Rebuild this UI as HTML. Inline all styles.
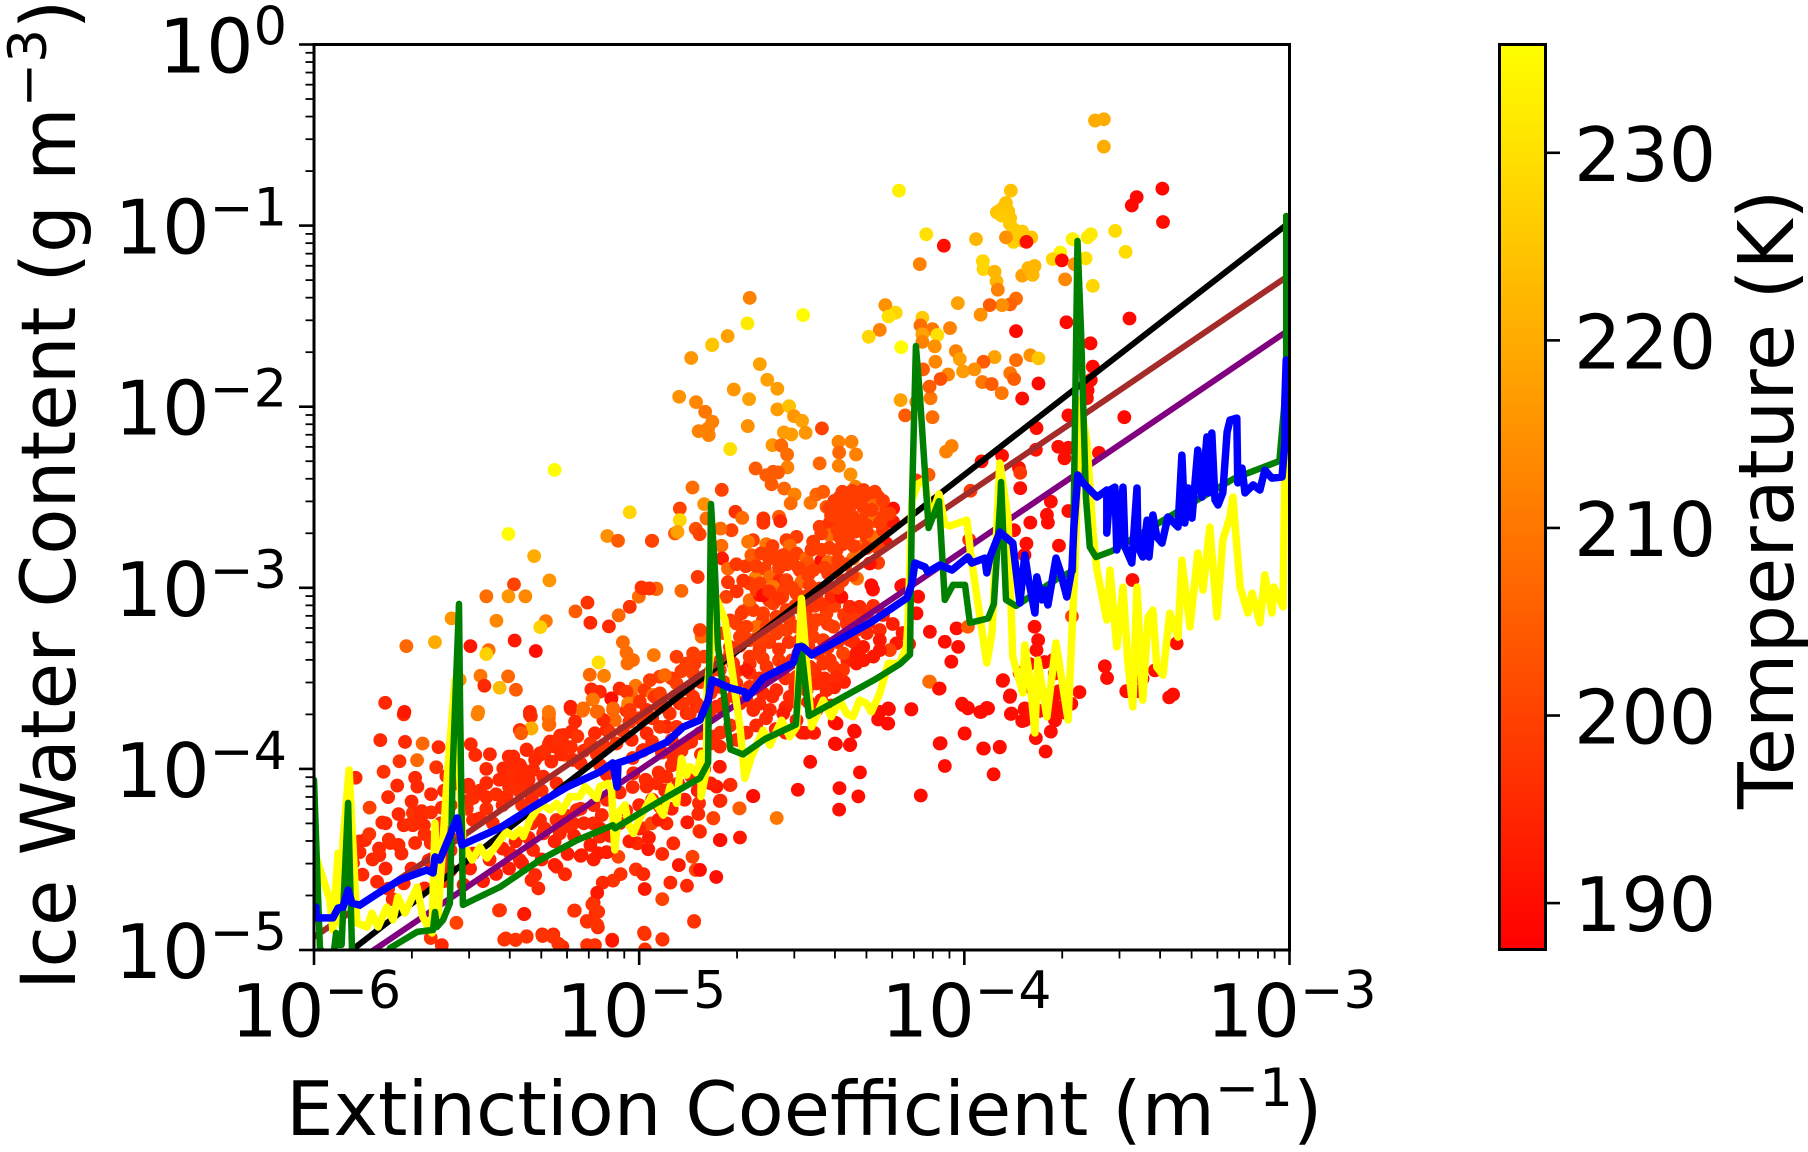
<!DOCTYPE html>
<html lang="en">
<head>
<meta charset="utf-8">
<title>Ice Water Content vs Extinction Coefficient</title>
<style>
html,body{margin:0;padding:0;background:#fff;width:1808px;height:1152px;overflow:hidden}
svg{display:block}
text{font-family:"DejaVu Sans","Liberation Sans",sans-serif;fill:#000}
</style>
</head>
<body>
<svg id="chart" xmlns="http://www.w3.org/2000/svg" width="1808" height="1152" viewBox="0 0 1808 1152">
<defs>
<clipPath id="plot-clip"><rect x="314" y="44.5" width="975.5" height="905.5"/></clipPath>
<linearGradient id="autumn-gradient" x1="0" y1="1" x2="0" y2="0"><stop offset="0" stop-color="#ff0000"/><stop offset="1" stop-color="#ffff00"/></linearGradient>
</defs>
<g id="marks" clip-path="url(#plot-clip)"></g>
<g id="axes"></g>
<rect x="1499.5" y="44.5" width="46" height="905" fill="url(#autumn-gradient)" stroke="#000" stroke-width="3"/>
<g id="cbar"></g>
<text x="286" y="1135" font-size="75.2">Extinction Coefficient (m<tspan dy="-29" font-size="53">−1</tspan><tspan dy="29">)</tspan></text>
<text transform="translate(75,990) rotate(-90)" font-size="75.7">Ice Water Content (g m<tspan dy="-29" font-size="53">−3</tspan><tspan dy="29">)</tspan></text>
<text transform="translate(1793,809) rotate(-90)" font-size="76.6">Temperature (K)</text>
</svg>
<script>
// Values are [log10 extinction (m^-1), log10 IWC (g m^-3), temperature (K)]
const upperSparsePoints=[[-3.598,-.420,220],[-3.571,-.413,220],[-3.571,-.564,220],[-3.391,-.796,189],[-3.470,-.843,189],[-3.485,-.889,189],[-3.389,-.980,190],[-4.201,-.807,233],[-3.857,-.807,224],[-3.891,-.917,225],[-3.872,-.875,224],[-3.859,-.959,225],[-3.900,-.927,225],[-3.872,-.948,226],[-3.847,-1.022,226],[-3.822,-1.033,226],[-3.849,-1.090,227],[-3.822,-1.082,226],[-3.794,-1.065,225],[-3.880,-.900,225],[-3.865,-.920,225],[-3.885,-.945,226],[-3.860,-.990,226],[-3.835,-1.060,226],[-4.117,-1.048,230],[-4.063,-1.111,190],[-3.964,-1.075,222],[-3.872,-1.065,215],[-3.809,-1.090,190],[-3.667,-1.075,233],[-3.621,-1.065,232],[-3.611,-1.048,232],[-3.536,-1.029,229],[-3.504,-1.145,229],[-3.705,-1.149,234],[-3.728,-1.185,228],[-3.700,-1.192,189],[-3.661,-1.213,215],[-3.627,-1.181,230],[-3.605,-1.333,228],[-3.690,-1.297,213],[-4.137,-1.213,212],[-3.943,-1.196,228],[-3.941,-1.240,228],[-3.907,-1.255,222],[-3.901,-1.308,222],[-3.897,-1.354,212],[-3.822,-1.276,218],[-3.803,-1.234,222],[-3.784,-1.223,222],[-3.790,-1.272,222],[-3.841,-1.403,208],[-3.859,-1.435,206],[-3.884,-1.439,215],[-3.922,-1.439,205],[-3.950,-1.492,215],[-4.020,-1.428,218],[-4.660,-1.399,212],[-4.667,-1.540,232],[-4.496,-1.494,235],[-4.728,-1.610,218],[-4.775,-1.657,225],[-4.243,-1.439,215],[-4.211,-1.481,228],[-4.233,-1.502,230],[-4.129,-1.509,226],[-4.260,-1.576,212],[-4.294,-1.614,228],[-4.135,-1.551,208],[-4.098,-1.572,210],[-4.044,-1.566,212],[-4.129,-1.600,218],[-4.083,-1.604,230],[-4.129,-1.642,212],[-4.194,-1.672,235],[-4.091,-1.667,215],[-3.841,-1.583,189],[-3.686,-1.534,189],[-3.492,-1.513,189],[-3.612,-1.650,189],[-4.089,-1.752,213],[-4.026,-1.693,212],[-4.014,-1.737,218],[-3.907,-1.726,218],[-3.941,-1.752,205],[-3.841,-1.743,208],[-3.797,-1.716,215],[-3.772,-1.733,225],[-4.127,-1.794,205],[-4.050,-1.822,213],[-4.073,-1.847,203],[-4.004,-1.805,217],[-3.969,-1.794,215],[-3.859,-1.815,210],[-3.847,-1.847,205],[-3.945,-1.864,210],[-3.916,-1.875,205],[-3.772,-1.872,189],[-3.885,-1.925,210],[-3.822,-1.955,190],[-3.605,-1.779,189],[-3.611,-1.853,189],[-3.621,-1.910,189],[-3.623,-1.953,190],[-3.680,-2.048,189],[-3.508,-2.058,189],[-3.778,-2.118,190],[-3.586,-2.255,190],[-3.711,-2.221,190],[-3.780,-2.238,191],[-3.680,-2.227,190],[-3.692,-2.285,190],[-3.884,-2.270,190],[-3.947,-2.302,190],[-3.832,-2.338,190],[-3.828,-2.365,198],[-3.828,-2.450,190],[-3.981,-2.464,198],[-3.734,-2.524,190],[-3.746,-2.597,190],[-3.743,-2.640,190],[-3.680,-2.576,190],[-3.709,-2.767,190],[-3.797,-2.640,190],[-3.847,-2.682,190],[-3.809,-2.756,190],[-3.815,-2.819,190],[-3.483,-2.957,190],[-3.985,-2.735,195],[-4.110,-2.376,205],[-4.148,-2.407,198],[-4.056,-2.248,212],[-4.039,-2.217,212],[-4.098,-2.058,208],[-4.182,-2.048,205],[-4.104,-1.953,210],[-4.107,-1.889,205],[-4.148,-1.974,212],[-4.196,-1.964,218]];

const midSparsePoints=[[-5.260,-2.349,235],[-5.029,-2.583,228],[-5.402,-2.703,235],[-5.098,-2.714,215],[-5.065,-2.740,205],[-4.960,-2.740,203],[-5.323,-2.825,220],[-5.276,-2.959,216],[-5.385,-2.981,200],[-5.470,-3.047,208],[-5.402,-3.047,216],[-5.350,-3.047,213],[-5.159,-3.082,197],[-5.196,-3.130,205],[-5.577,-3.169,216],[-5.439,-3.182,213],[-5.287,-3.184,210],[-5.304,-3.217,227],[-5.150,-3.193,195],[-5.093,-3.213,195],[-5.063,-3.152,207],[-5.029,-3.105,197],[-5.001,-3.049,208],[-4.993,-2.998,198],[-4.968,-3.003,198],[-4.947,-3.007,205],[-5.716,-3.322,207],[-5.628,-3.300,220],[-5.519,-3.322,192],[-5.463,-3.344,208],[-5.470,-3.366,227],[-5.383,-3.291,192],[-5.318,-3.349,190],[-5.050,-3.300,208],[-5.039,-3.357,208],[-5.019,-3.399,208],[-5.036,-3.418,208],[-4.955,-3.372,210],[-5.125,-3.412,230],[-5.152,-3.480,207],[-5.108,-3.486,212],[-5.552,-3.508,215],[-5.488,-3.486,210],[-5.403,-3.489,207],[-5.476,-3.541,195],[-5.429,-3.552,223],[-5.379,-3.563,205],[-5.147,-3.561,195],[-5.121,-3.574,195],[-5.142,-3.617,210],[-5.086,-3.613,190],[-5.060,-3.556,195],[-5.011,-3.541,210],[-5.039,-3.574,197],[-4.983,-3.565,198],[-4.957,-3.593,210],[-4.937,-3.491,200],[-5.211,-3.657,193],[-5.172,-3.666,208],[-5.131,-3.685,207],[-5.034,-3.639,212],[-5.080,-3.666,207],[-5.029,-3.675,198],[-4.998,-3.629,197],[-5.495,-3.685,212],[-5.336,-3.685,195],[-5.278,-3.685,210],[-5.722,-3.685,192]];

const orangeCloudPoints=[[-4.840,-1.731,216],[-4.776,-1.660,225],[-4.629,-1.765,218],[-4.606,-1.851,218],[-4.575,-1.901,217],[-4.709,-1.905,216],[-4.662,-1.958,218],[-4.877,-1.945,215],[-4.825,-1.975,213],[-4.797,-2.028,210],[-4.775,-2.083,212],[-4.788,-2.120,212],[-4.817,-2.135,212],[-4.786,-2.157,212],[-4.666,-2.107,215],[-4.575,-2.015,217],[-4.539,-1.997,224],[-4.524,-2.052,216],[-4.499,-2.078,218],[-4.488,-2.144,216],[-4.555,-2.142,217],[-4.532,-2.153,217],[-4.590,-2.212,216],[-4.563,-2.214,207],[-4.545,-2.264,208],[-4.544,-2.335,212],[-4.438,-2.120,200],[-4.720,-2.234,230],[-4.642,-2.341,205],[-4.609,-2.378,205],[-4.588,-2.359,205],[-4.573,-2.363,205],[-4.593,-2.428,205],[-4.554,-2.452,207],[-4.522,-2.485,212],[-4.534,-2.534,208],[-4.473,-2.531,210],[-4.455,-2.485,207],[-4.434,-2.470,205],[-4.424,-2.553,205],[-4.387,-2.194,212],[-4.347,-2.194,212],[-4.385,-2.253,207],[-4.333,-2.264,212],[-4.386,-2.326,212],[-4.350,-2.374,215],[-4.445,-2.313,207],[-4.335,-2.442,212],[-4.836,-2.446,208],[-4.746,-2.459,200],[-4.875,-2.562,200],[-4.800,-2.538,215],[-4.875,-2.626,228],[-4.890,-2.700,205],[-4.882,-2.691,218],[-4.961,-2.741,200],[-4.826,-2.674,203],[-4.814,-2.704,200],[-4.793,-2.617,208],[-4.704,-2.580,197],[-4.683,-2.614,208],[-4.716,-2.682,200],[-4.750,-2.673,208],[-4.618,-2.617,197],[-4.618,-2.641,197],[-4.570,-2.608,205],[-4.566,-2.632,195],[-4.747,-2.768,208],[-4.745,-2.838,192],[-4.727,-2.894,207],[-4.701,-2.870,198],[-4.672,-2.881,198],[-4.727,-2.969,198],[-4.820,-2.940,198],[-4.870,-3.017,207],[-4.947,-3.004,207],[-4.969,-3.004,197],[-4.988,-3.004,197],[-4.732,-3.050,200],[-4.642,-2.943,212]];

const coreBlobPoints=[[-4.650,-2.737,199],[-4.655,-2.820,205],[-4.609,-2.783,199],[-4.665,-2.746,210],[-4.609,-2.759,210],[-4.547,-2.737,199],[-4.516,-2.719,199],[-4.537,-2.768,207],[-4.557,-2.820,199],[-4.578,-2.829,199],[-4.516,-2.811,199],[-4.486,-2.838,207],[-4.481,-2.866,203],[-4.614,-2.894,199],[-4.598,-2.940,207],[-4.629,-2.976,199],[-4.660,-2.976,199],[-4.639,-3.013,199],[-4.619,-3.041,190],[-4.568,-2.958,195],[-4.588,-2.995,210],[-4.547,-2.958,199],[-4.506,-2.903,198],[-4.501,-2.967,207],[-4.557,-3.022,199],[-4.516,-3.032,199],[-4.475,-2.986,199],[-4.440,-2.851,190],[-4.419,-2.857,207],[-4.465,-2.903,199],[-4.393,-2.792,199],[-4.388,-2.848,199],[-4.419,-2.921,199],[-4.445,-3.004,199],[-4.455,-3.050,199],[-4.445,-2.663,199],[-4.465,-2.746,199],[-4.414,-2.641,197],[-4.414,-2.709,208],[-4.383,-2.719,199],[-4.353,-2.700,199],[-4.358,-2.737,199],[-4.322,-2.774,210],[-4.301,-2.719,199],[-4.281,-2.719,208],[-4.250,-2.682,197],[-4.240,-2.755,190],[-4.265,-2.862,199],[-4.291,-2.866,190],[-4.286,-2.986,190],[-4.281,-3.010,190],[-4.330,-2.949,208],[-4.194,-2.991,190],[-4.409,-3.050,195],[-4.378,-3.050,190],[-4.342,-2.838,208],[-4.383,-2.498,199],[-4.342,-2.498,199],[-4.301,-2.488,199],[-4.265,-2.498,199],[-4.393,-2.553,199],[-4.353,-2.553,199],[-4.312,-2.553,199],[-4.276,-2.544,207],[-4.240,-2.571,199],[-4.383,-2.608,199],[-4.342,-2.608,199],[-4.301,-2.599,199],[-4.278,-2.632,210],[-4.219,-2.562,190],[-4.219,-2.636,192],[-4.363,-2.654,199],[-4.332,-2.654,199],[-4.301,-2.654,199],[-4.250,-2.608,199],[-4.415,-2.560,199],[-4.410,-2.600,199],[-4.365,-2.525,199],[-4.325,-2.525,199],[-4.285,-2.570,199],[-4.355,-2.580,199],[-4.320,-2.630,199],[-4.390,-2.680,199],[-4.440,-2.700,199],[-4.470,-2.790,199],[-4.545,-2.870,199],[-4.600,-2.840,199],[-4.400,-2.520,199],[-4.375,-2.470,199],[-4.345,-2.465,199],[-4.310,-2.460,199],[-4.275,-2.470,199],[-4.250,-2.520,199],[-4.230,-2.590,199],[-4.260,-2.640,199],[-4.335,-2.690,199],[-4.300,-2.690,199],[-4.375,-2.760,199],[-4.340,-2.770,199],[-4.300,-2.780,199],[-4.265,-2.780,199],[-4.415,-2.780,199],[-4.440,-2.790,199],[-4.430,-2.890,199],[-4.395,-2.900,199],[-4.365,-2.870,199],[-4.375,-2.960,199],[-4.345,-2.930,199],[-4.420,-2.990,199],[-4.390,-3.000,199],[-4.480,-2.930,199],[-4.510,-2.890,199],[-4.530,-2.850,199],[-4.570,-2.890,199],[-4.590,-2.770,199],[-4.625,-2.810,199],[-4.640,-2.880,199],[-4.680,-2.960,197],[-4.700,-3.020,197],[-4.600,-3.020,197],[-4.570,-3.060,197],[-4.530,-3.000,199],[-4.490,-3.050,199],[-4.440,-3.090,197],[-4.480,-3.100,197]];

const bandPoints=[[-4.952,-3.602,197],[-4.967,-3.510,199],[-4.936,-3.583,199],[-4.921,-3.482,207],[-4.885,-3.381,199],[-4.854,-3.418,199],[-4.834,-3.362,199],[-4.808,-3.270,207],[-4.813,-3.233,199],[-4.865,-3.454,199],[-4.834,-3.473,199],[-4.885,-3.528,199],[-4.865,-3.639,197],[-4.834,-3.602,197],[-4.906,-3.694,197],[-4.936,-3.768,197],[-4.885,-3.768,197],[-4.844,-3.694,197],[-4.813,-3.657,197],[-4.685,-3.141,198],[-4.649,-3.123,199],[-4.619,-3.141,199],[-4.588,-3.086,199],[-4.660,-3.068,207],[-4.629,-3.040,190],[-4.639,-3.215,208],[-4.670,-3.215,199],[-4.701,-3.197,199],[-4.608,-3.215,199],[-4.578,-3.160,199],[-4.547,-3.123,199],[-4.516,-3.215,199],[-4.485,-3.160,199],[-4.455,-3.178,199],[-4.424,-3.141,199],[-4.383,-3.049,199],[-4.352,-3.105,195],[-4.322,-3.105,195],[-4.188,-2.985,190],[-4.721,-3.326,197],[-4.690,-3.270,199],[-4.660,-3.289,199],[-4.619,-3.270,199],[-4.578,-3.252,199],[-4.547,-3.233,199],[-4.506,-3.289,199],[-4.465,-3.270,199],[-4.434,-3.289,199],[-4.403,-3.215,199],[-4.362,-3.197,197],[-4.332,-3.233,197],[-4.296,-3.197,195],[-4.260,-3.233,195],[-4.352,-3.289,195],[-4.311,-3.326,192],[-4.260,-3.289,192],[-4.209,-3.307,192],[-4.229,-3.344,200],[-4.260,-3.344,192],[-4.332,-3.362,192],[-4.373,-3.362,200],[-4.403,-3.436,198],[-4.373,-3.454,197],[-4.414,-3.399,197],[-4.670,-3.454,192],[-4.711,-3.418,197],[-4.752,-3.454,197],[-4.701,-3.528,197],[-4.660,-3.547,197],[-4.608,-3.436,197],[-4.557,-3.436,197],[-4.516,-3.491,197],[-4.475,-3.436,197],[-4.434,-3.418,197],[-4.393,-3.491,195],[-4.455,-3.528,195],[-4.424,-3.565,195],[-4.485,-3.565,195],[-4.537,-3.602,195],[-4.578,-3.565,195],[-4.619,-3.583,195],[-4.598,-3.675,195],[-4.649,-3.675,195],[-4.690,-3.639,195],[-4.742,-3.639,195],[-4.783,-3.712,195],[-4.752,-3.547,195],[-4.557,-3.694,192],[-4.516,-3.731,192],[-4.455,-3.675,192],[-4.332,-3.418,192],[-4.142,-3.049,190],[-4.147,-3.141,190],[-4.106,-3.243,190],[-4.060,-3.298,190],[-4.019,-3.326,190],[-4.040,-3.408,190],[-4.024,-3.224,190],[-3.989,-3.215,205],[-3.881,-3.510,190],[-4.106,-3.519,208],[-4.076,-3.556,190],[-4.004,-3.648,190],[-3.989,-3.666,190],[-3.948,-3.685,190],[-3.927,-3.666,190],[-3.860,-3.602,190],[-3.855,-3.694,190],[-3.814,-3.666,190],[-3.814,-3.731,190],[-4.163,-3.672,190],[-4.260,-3.685,190],[-4.234,-3.666,190],[-4.234,-3.749,190],[-4.393,-3.749,190],[-4.337,-3.795,190],[-4.398,-3.860,190],[-4.352,-3.869,190],[-3.999,-3.804,190],[-4.076,-3.860,190],[-3.942,-3.887,190],[-3.891,-3.878,190],[-3.784,-3.215,190],[-3.773,-3.289,190],[-3.778,-3.344,190],[-3.727,-3.399,190],[-3.722,-3.473,190]];

const bandFillPoints=[[-5.86,-4.40,195],[-5.83,-4.36,197],[-5.80,-4.44,195],[-5.77,-4.39,196],[-5.74,-4.42,195],[-5.70,-4.30,196],[-5.67,-4.26,195],[-5.64,-4.24,196],[-5.61,-4.30,195],[-5.66,-4.36,196],[-5.62,-4.40,195],[-5.58,-4.45,195],[-5.55,-4.38,196],[-5.53,-4.10,195],[-5.51,-4.16,196],[-5.49,-4.12,195],[-5.53,-4.22,196],[-5.50,-4.28,195],[-5.47,-4.22,196],[-5.45,-4.30,195],[-5.44,-4.14,196],[-5.42,-4.20,195],[-5.40,-4.10,196],[-5.43,-4.06,195],[-5.39,-4.02,196],[-5.36,-4.00,195],[-5.37,-4.12,196],[-5.34,-4.06,195],[-5.36,-4.20,196],[-5.33,-4.16,195],[-5.30,-4.12,196],[-5.32,-3.95,195],[-5.29,-3.90,196],[-5.27,-3.96,195],[-5.25,-3.84,196],[-5.24,-3.92,195],[-5.21,-3.88,196],[-5.19,-3.82,197],[-5.17,-3.90,196],[-5.15,-3.86,197],[-5.13,-3.92,196],[-5.11,-3.87,197],[-5.09,-3.80,197],[-5.07,-3.86,197],[-5.05,-3.79,197],[-5.03,-3.74,197],[-5.00,-3.72,197],[-5.12,-3.98,196],[-5.18,-3.97,195],[-5.10,-4.03,195],[-5.33,-4.30,195],[-5.29,-4.33,195],[-5.26,-4.40,194],[-5.23,-4.32,195],[-5.20,-4.37,194],[-5.17,-4.30,195],[-5.15,-4.42,193],[-5.12,-4.33,194],[-5.09,-4.37,194],[-5.06,-4.30,194],[-5.03,-4.40,193],[-5.00,-4.33,194],[-4.97,-4.38,193],[-5.22,-4.26,195],[-5.18,-4.22,195],[-5.14,-4.20,195],[-5.10,-4.17,195],[-5.06,-4.13,195],[-5.02,-4.10,195],[-4.98,-4.06,195],[-4.94,-4.02,195],[-4.90,-3.98,195],[-5.04,-4.23,195],[-5.00,-4.20,194],[-4.96,-4.17,194],[-4.92,-4.12,194],[-4.88,-4.08,194],[-4.84,-4.04,194],[-4.80,-4.00,194],[-4.94,-4.28,193],[-4.90,-4.22,193],[-4.86,-4.17,193],[-4.82,-4.12,193],[-4.78,-4.08,193],[-5.02,-3.94,196],[-4.99,-3.90,196],[-4.96,-3.85,196],[-4.93,-3.91,195],[-4.90,-3.84,196],[-4.87,-3.90,196],[-4.84,-3.85,196],[-4.81,-3.92,195],[-4.78,-3.86,196],[-4.75,-3.80,196],[-4.72,-3.76,196],[-4.70,-3.84,195],[-4.67,-3.80,195],[-4.64,-3.76,195],[-4.61,-3.72,195],[-4.58,-3.78,194],[-4.55,-3.80,193],[-4.50,-3.80,192],[-4.96,-3.72,197],[-4.92,-3.66,197],[-4.89,-3.60,198],[-4.85,-3.56,198],[-4.81,-3.52,198],[-4.78,-3.46,198],[-4.75,-3.40,198],[-4.72,-3.36,198],[-4.69,-3.32,198],[-4.66,-3.38,198],[-4.63,-3.34,198],[-4.60,-3.30,198],[-4.57,-3.34,197],[-4.54,-3.30,197],[-4.51,-3.36,197],[-4.48,-3.32,197],[-4.45,-3.36,197],[-4.42,-3.33,197],[-4.39,-3.30,197],[-4.90,-3.50,198],[-4.87,-3.46,198],[-4.83,-3.42,198],[-4.80,-3.38,199],[-4.77,-3.31,199],[-4.74,-3.25,199],[-4.72,-3.18,199],[-4.68,-3.13,199],[-4.78,-3.58,197],[-4.74,-3.52,197],[-4.70,-3.46,197],[-4.66,-3.47,197],[-4.63,-3.50,196],[-4.59,-3.48,196],[-4.55,-3.50,196],[-4.52,-3.55,195],[-4.49,-3.50,196],[-4.46,-3.46,196],[-4.43,-3.50,195],[-4.40,-3.55,194],[-4.37,-3.52,194],[-4.71,-3.60,196],[-4.67,-3.62,195],[-4.63,-3.64,195],[-4.59,-3.60,195],[-4.55,-3.66,194],[-4.52,-3.63,194],[-4.48,-3.63,193],[-4.44,-3.62,193],[-4.41,-3.65,192],[-4.66,-3.10,199],[-4.62,-3.18,199],[-4.58,-3.20,199],[-4.54,-3.17,199],[-4.50,-3.12,199],[-4.46,-3.10,199],[-4.42,-3.20,198],[-4.40,-3.10,199],[-4.37,-3.15,198],[-4.34,-3.16,198],[-4.30,-3.15,196],[-4.28,-3.10,196],[-4.25,-3.15,194],[-4.22,-3.20,193],[-4.19,-3.25,192],[-4.17,-3.31,192],[-4.30,-3.25,195],[-4.34,-3.30,195],[-4.28,-3.38,192],[-4.31,-3.40,192],[-4.36,-3.40,194],[-4.52,-3.10,199],[-4.60,-3.07,199],[-4.56,-3.05,199],[-4.47,-3.22,199],[-4.64,-3.28,199],[-4.68,-3.24,199],[-4.57,-3.40,198],[-4.53,-3.40,197],[-4.50,-3.42,197],[-4.62,-3.39,198],[-4.66,-3.42,197],[-5.60,-4.12,195],[-5.56,-4.08,195],[-5.58,-4.20,195],[-5.64,-4.14,195],[-5.70,-4.18,195],[-5.74,-4.25,195],[-5.78,-4.30,195],[-5.82,-4.50,195],[-5.78,-4.55,194],[-5.70,-4.55,194],[-5.64,-4.50,194],[-5.58,-4.56,194],[-5.52,-4.55,194],[-5.46,-4.50,194],[-5.42,-4.44,194],[-5.38,-4.40,194],[-5.34,-4.38,194],[-5.48,-4.62,193],[-5.44,-4.58,193],[-5.40,-4.55,193],[-5.36,-4.52,193],[-5.30,-4.50,193],[-5.26,-4.53,193],[-5.22,-4.47,193],[-5.18,-4.48,193],[-5.14,-4.50,193],[-5.10,-4.46,193],[-5.60,-4.62,194],[-5.54,-4.64,193],[-5.66,-4.66,194],[-5.86,-4.46,195],[-5.88,-4.52,195]];

const lowerRightPoints=[[-4.474,-3.961,190],[-4.512,-4.115,190],[-4.384,-4.106,190],[-4.326,-4.152,190],[-4.385,-4.225,190],[-4.321,-4.019,190],[-4.577,-4.271,210],[-4.650,-4.150,190],[-4.691,-4.218,205],[-4.772,-4.271,200],[-4.750,-4.393,190],[-4.690,-4.379,192],[-4.763,-4.597,190],[-4.719,-4.088,195],[-4.750,-4.175,195],[-4.813,-4.347,195],[-4.813,-4.558,190],[-4.134,-4.147,190],[-4.060,-3.984,190],[-4.073,-3.858,190],[-3.999,-3.805,190],[-3.940,-3.888,190],[-3.891,-3.881,190],[-3.910,-4.030,190],[-3.780,-3.830,190],[-3.734,-3.794,190],[-3.750,-3.904,190],[-4.007,-3.640,190],[-3.989,-3.663,190],[-3.951,-3.686,190],[-3.931,-3.663,190],[-4.108,-3.518,205],[-4.078,-3.557,192],[-4.163,-3.670,190],[-4.232,-3.670,190],[-4.265,-3.727,190],[-4.236,-3.750,190],[-4.339,-3.789,190],[-4.395,-3.863,190],[-4.351,-3.865,190],[-4.399,-3.743,192],[-4.462,-3.801,192],[-4.489,-3.801,192],[-3.882,-3.514,190],[-3.859,-3.594,190],[-3.857,-3.697,190],[-3.815,-3.674,190],[-3.822,-3.736,190],[-3.646,-3.576,190],[-3.671,-3.640,190],[-3.709,-3.571,190],[-3.709,-3.663,190],[-3.721,-3.732,190],[-3.753,-3.410,190],[-3.568,-3.433,190],[-3.561,-3.498,190],[-3.502,-3.571,190],[-3.464,-3.571,190],[-3.452,-3.502,190],[-3.414,-3.456,190],[-3.358,-3.589,190],[-3.370,-3.605,190],[-3.347,-3.307,190],[-3.669,-3.158,200],[-3.690,-3.600,190],[-3.730,-3.620,190],[-3.770,-3.680,190],[-3.690,-3.690,190],[-3.730,-3.680,190],[-3.790,-3.560,190],[-3.830,-3.470,190],[-3.800,-3.420,190]];

const lowerMidPoints=[[-5.336,-3.702,195],[-5.277,-3.697,208],[-5.331,-3.776,220],[-5.276,-3.754,207],[-5.367,-3.785,197],[-5.363,-3.803,205],[-5.211,-3.665,195],[-5.174,-3.678,208],[-5.143,-3.616,210],[-5.126,-3.684,207],[-5.085,-3.610,197],[-5.080,-3.674,205],[-5.039,-3.678,197],[-5.075,-3.730,207],[-5.023,-3.601,207],[-4.955,-3.592,208],[-5.110,-3.730,195],[-5.197,-3.739,195],[-5.208,-3.794,195],[-5.233,-3.813,195],[-5.274,-3.849,195],[-5.305,-3.914,195],[-5.259,-3.877,195],[-5.223,-3.877,195],[-5.228,-3.923,207],[-5.346,-3.896,195],[-5.387,-3.932,195],[-5.367,-3.978,195],[-5.418,-3.997,195],[-5.326,-4.006,195],[-5.367,-4.061,195],[-5.397,-4.061,195],[-5.367,-4.116,195],[-5.408,-4.153,195],[-5.341,-4.116,195],[-5.295,-4.043,195],[-5.254,-4.080,195],[-5.203,-3.951,195],[-5.136,-3.803,195],[-5.100,-3.785,195],[-5.023,-3.840,195],[-4.977,-3.803,195],[-4.916,-3.767,195],[-4.854,-3.693,195],[-4.793,-3.693,195],[-4.762,-3.656,195],[-4.875,-3.638,195],[-4.824,-3.638,195],[-4.977,-3.674,195],[-4.936,-3.656,195],[-4.987,-3.896,195],[-5.018,-4.024,195],[-4.977,-4.098,195],[-5.090,-4.006,195],[-4.916,-4.043,195],[-4.946,-4.080,195],[-4.895,-3.932,195],[-4.854,-3.859,195],[-4.813,-3.803,195],[-4.772,-3.822,195],[-4.752,-3.877,195],[-4.721,-4.089,192],[-4.752,-3.988,192],[-4.695,-3.840,192],[-4.762,-4.098,192],[-4.752,-4.177,192],[-4.649,-4.150,192],[-4.692,-4.218,205],[-4.816,-4.190,195],[-4.818,-4.249,195],[-4.772,-4.273,200],[-4.852,-4.295,192],[-4.815,-4.343,205],[-4.752,-4.393,192],[-4.916,-4.301,195],[-4.987,-4.328,200],[-4.962,-4.301,200],[-4.936,-4.209,195],[-5.141,-4.301,195],[-5.115,-4.255,195],[-5.177,-4.476,195],[-5.126,-4.466,192],[-5.064,-4.485,200],[-5.006,-4.411,195],[-4.972,-4.444,192],[-4.929,-4.470,195],[-4.895,-4.411,195],[-4.836,-4.485,200],[-4.878,-4.531,192],[-4.826,-4.558,200],[-5.010,-4.555,197],[-4.987,-4.581,195],[-5.057,-4.581,197],[-5.080,-4.617,197],[-5.112,-4.628,195],[-5.129,-4.684,192],[-4.983,-4.663,192],[-4.904,-4.628,195],[-4.853,-4.645,195],[-4.929,-4.719,200],[-5.144,-4.748,197],[-5.126,-4.789,197],[-5.200,-4.783,197],[-5.354,-4.802,192],[-5.428,-4.780,197],[-5.160,-4.844,197],[-5.129,-4.862,197],[-4.831,-4.844,197],[-5.410,-4.936,197],[-5.380,-4.945,197],[-5.346,-4.927,197],[-5.297,-4.923,197],[-5.266,-4.927,197],[-5.249,-4.964,197],[-5.160,-4.973,197],[-5.136,-4.973,197],[-5.083,-4.949,192],[-4.983,-4.912,197],[-4.929,-4.940,197],[-4.982,-4.997,197],[-5.310,-4.660,195],[-5.331,-4.614,195],[-5.320,-4.586,195],[-5.254,-4.540,195],[-5.228,-4.582,195],[-5.121,-4.374,195],[-5.397,-4.466,195],[-5.367,-4.503,195],[-5.326,-4.448,195],[-5.295,-4.356,195],[-5.244,-4.356,195],[-5.203,-4.301,195],[-5.305,-4.282,195],[-5.254,-4.282,195],[-5.192,-4.227,195]];

const lowerLeftPoints=[[-5.781,-3.635,195],[-5.724,-3.699,195],[-5.796,-3.841,195],[-5.720,-3.851,195],[-5.666,-3.860,207],[-5.617,-3.880,195],[-5.872,-4.049,195],[-5.786,-4.016,197],[-5.737,-3.958,197],[-5.683,-3.952,207],[-5.689,-4.049,195],[-5.624,-3.991,197],[-5.744,-4.092,195],[-5.772,-4.156,195],[-5.682,-4.098,195],[-5.525,-4.088,195],[-5.593,-4.039,195],[-5.573,-3.864,210],[-5.518,-3.864,195],[-5.504,-3.923,195],[-5.459,-3.919,195],[-5.401,-3.932,195],[-5.346,-3.893,195],[-5.367,-3.786,200],[-5.278,-3.864,200],[-5.243,-3.816,195],[-5.305,-3.922,195],[-5.470,-4.000,195],[-5.388,-4.000,195],[-5.339,-4.020,195],[-5.415,-4.059,195],[-5.374,-4.078,195],[-5.470,-4.078,195],[-5.525,-4.175,195],[-5.470,-4.156,195],[-5.415,-4.166,195],[-5.490,-4.273,195],[-5.829,-4.214,200],[-5.790,-4.296,195],[-5.724,-4.311,195],[-5.696,-4.243,197],[-5.669,-4.233,195],[-5.662,-4.311,195],[-5.696,-4.311,195],[-5.607,-4.214,195],[-5.538,-4.214,195],[-5.511,-4.282,195],[-5.843,-4.393,195],[-5.799,-4.477,195],[-5.765,-4.409,195],[-5.731,-4.467,195],[-5.689,-4.409,195],[-5.641,-4.409,195],[-5.607,-4.331,195],[-5.851,-4.584,195],[-5.806,-4.623,195],[-5.772,-4.661,195],[-5.724,-4.632,195],[-5.758,-4.720,195],[-5.648,-4.506,195],[-5.593,-4.496,195],[-5.511,-4.467,195],[-5.431,-4.782,197],[-5.353,-4.801,195],[-5.562,-4.850,200],[-5.641,-4.934,197],[-5.607,-4.973,195],[-5.415,-4.943,197],[-5.380,-4.943,197],[-5.346,-4.924,195],[-5.298,-4.914,195],[-5.264,-4.914,195],[-5.236,-4.982,195],[-5.147,-4.982,195],[-5.083,-4.943,197],[-5.198,-4.782,197],[-5.140,-4.739,195],[-5.134,-4.798,195],[-5.161,-4.840,195],[-5.127,-4.875,195],[-4.985,-4.904,197],[-4.928,-4.943,197],[-4.831,-4.840,197],[-5.333,-3.777,225],[-5.278,-3.718,205],[-5.278,-3.757,210],[-5.333,-3.709,197],[-5.209,-3.670,197],[-5.175,-3.679,208],[-5.497,-3.699,212]];

const scatterClouds=[lowerLeftPoints,lowerMidPoints,lowerRightPoints,bandFillPoints,upperSparsePoints,midSparsePoints,orangeCloudPoints,bandPoints,coreBlobPoints];

const blackLogExt=[-6,-3];
const blackLogIwc=[-5.163,-0.983];
const brownLogExt=[-6,-3];
const brownLogIwc=[-4.928,-1.273];
const purpleLogExt=[-6,-3];
const purpleLogIwc=[-5.224,-1.574];

const yellowLogExt=[-5.994,-5.951,-5.942,-5.926,-5.917,-5.911,-5.892,-5.868,-5.837,-5.822,-5.803,-5.776,-5.757,-5.742,-5.720,-5.683,-5.665,-5.637,-5.628,-5.619,-5.588,-5.566,-5.542,-5.514,-5.490,-5.468,-5.428,-5.408,-5.387,-5.367,-5.356,-5.336,-5.315,-5.295,-5.274,-5.254,-5.238,-5.213,-5.182,-5.167,-5.146,-5.131,-5.121,-5.095,-5.085,-5.075,-5.064,-5.044,-5.034,-5.018,-4.998,-4.962,-4.926,-4.905,-4.885,-4.870,-4.854,-4.844,-4.823,-4.808,-4.810,-4.793,-4.791,-4.776,-4.761,-4.736,-4.690,-4.675,-4.656,-4.619,-4.598,-4.562,-4.537,-4.516,-4.501,-4.470,-4.434,-4.409,-4.383,-4.362,-4.342,-4.322,-4.301,-4.286,-4.260,-4.234,-4.199,-4.178,-4.173,-4.161,-4.143,-4.121,-4.106,-4.078,-4.060,-4.044,-3.992,-3.980,-3.961,-3.931,-3.915,-3.891,-3.866,-3.851,-3.820,-3.814,-3.798,-3.783,-3.774,-3.746,-3.718,-3.681,-3.660,-3.644,-3.623,-3.604,-3.592,-3.562,-3.552,-3.531,-3.512,-3.497,-3.482,-3.469,-3.451,-3.435,-3.420,-3.408,-3.389,-3.368,-3.343,-3.331,-3.306,-3.282,-3.266,-3.245,-3.223,-3.205,-3.183,-3.174,-3.152,-3.128,-3.115,-3.091,-3.076,-3.054,-3.048,-3.020,-3.014,-3.010];
const yellowLogIwc=[-4.486,-4.724,-4.889,-4.465,-4.862,-4.410,-4.006,-4.851,-4.873,-4.796,-4.873,-4.763,-4.834,-4.707,-4.796,-4.652,-4.818,-4.906,-4.299,-4.818,-3.989,-3.509,-4.410,-4.503,-4.431,-4.492,-4.393,-4.347,-4.374,-4.337,-4.374,-4.282,-4.227,-4.199,-4.227,-4.190,-4.236,-4.153,-4.153,-4.098,-4.135,-4.163,-4.098,-4.080,-4.116,-4.448,-4.245,-4.199,-4.301,-4.356,-4.273,-4.153,-4.255,-4.098,-4.190,-3.942,-4.034,-3.988,-4.024,-3.914,-4.153,-4.006,-3.564,-3.288,-3.067,-3.178,-3.769,-4.052,-3.940,-3.786,-3.869,-3.731,-3.823,-3.768,-3.059,-3.768,-3.620,-3.712,-3.620,-3.694,-3.712,-3.620,-3.639,-3.685,-3.583,-3.418,-3.418,-3.326,-3.178,-2.515,-2.427,-2.405,-2.625,-2.482,-2.648,-2.659,-2.626,-2.819,-3.051,-3.415,-3.250,-2.311,-2.609,-3.382,-3.581,-3.316,-3.509,-3.802,-3.399,-3.713,-3.305,-3.730,-2.885,-1.963,-2.200,-2.698,-2.902,-3.178,-2.902,-3.327,-2.996,-3.415,-3.658,-2.996,-3.620,-3.161,-3.123,-3.438,-3.482,-3.140,-3.272,-2.847,-3.216,-2.808,-3.012,-2.664,-3.161,-2.736,-2.609,-2.499,-2.996,-3.139,-3.029,-3.194,-2.929,-3.139,-2.996,-3.106,-2.333,-1.963];

const greenLogExt=[-6.000,-5.982,-5.945,-5.932,-5.923,-5.915,-5.895,-5.883,-5.878,-5.830,-5.766,-5.683,-5.634,-5.628,-5.622,-5.603,-5.582,-5.573,-5.554,-5.551,-5.542,-5.511,-5.428,-5.305,-5.191,-5.081,-5.074,-4.998,-4.915,-4.813,-4.788,-4.779,-4.767,-4.758,-4.719,-4.681,-4.613,-4.518,-4.502,-4.478,-4.361,-4.273,-4.198,-4.167,-4.161,-4.149,-4.137,-4.110,-4.078,-4.060,-4.035,-3.998,-3.983,-3.927,-3.909,-3.890,-3.887,-3.872,-3.841,-3.715,-3.666,-3.652,-3.641,-3.626,-3.614,-3.595,-3.546,-3.269,-3.168,-3.031,-3.010,-3.010];
const greenLogIwc=[-4.061,-4.989,-5.100,-4.906,-4.972,-4.972,-4.188,-5.000,-5.170,-5.200,-4.989,-4.900,-4.889,-4.790,-4.873,-4.834,-4.741,-3.989,-3.089,-3.620,-4.751,-4.724,-4.652,-4.503,-4.393,-4.311,-4.328,-4.244,-4.155,-4.050,-3.967,-2.537,-2.902,-3.316,-3.893,-3.920,-3.835,-3.755,-3.319,-3.708,-3.592,-3.504,-3.421,-3.369,-2.515,-1.665,-1.930,-2.670,-2.521,-3.067,-2.984,-2.984,-3.193,-3.169,-3.089,-2.537,-2.416,-3.067,-3.100,-2.951,-2.906,-1.085,-1.593,-2.499,-2.775,-2.830,-2.797,-2.499,-2.394,-2.300,-1.869,-0.947];

const blueLogExt=[-5.994,-5.994,-5.942,-5.926,-5.911,-5.895,-5.883,-5.859,-5.797,-5.736,-5.653,-5.634,-5.628,-5.613,-5.560,-5.545,-5.511,-5.428,-5.327,-5.222,-5.121,-5.081,-5.068,-5.065,-5.019,-4.915,-4.865,-4.813,-4.807,-4.788,-4.776,-4.721,-4.675,-4.669,-4.619,-4.527,-4.512,-4.496,-4.469,-4.290,-4.176,-4.161,-4.152,-4.121,-4.112,-4.075,-4.038,-3.989,-3.977,-3.937,-3.931,-3.921,-3.891,-3.851,-3.829,-3.814,-3.804,-3.783,-3.777,-3.761,-3.752,-3.743,-3.718,-3.706,-3.685,-3.669,-3.663,-3.651,-3.635,-3.592,-3.562,-3.562,-3.552,-3.537,-3.531,-3.512,-3.506,-3.485,-3.469,-3.466,-3.451,-3.438,-3.432,-3.420,-3.408,-3.392,-3.374,-3.343,-3.331,-3.322,-3.312,-3.300,-3.282,-3.269,-3.254,-3.248,-3.239,-3.229,-3.220,-3.205,-3.192,-3.183,-3.162,-3.159,-3.146,-3.137,-3.112,-3.091,-3.076,-3.054,-3.023,-3.014,-3.014,-3.010];
const blueLogIwc=[-4.763,-4.823,-4.823,-4.768,-4.763,-4.669,-4.741,-4.752,-4.680,-4.613,-4.558,-4.575,-4.486,-4.503,-4.271,-4.420,-4.392,-4.326,-4.210,-4.100,-4.017,-3.967,-4.100,-3.967,-3.940,-3.852,-3.769,-3.730,-3.702,-3.620,-3.509,-3.553,-3.575,-3.609,-3.498,-3.415,-3.327,-3.327,-3.371,-3.194,-3.056,-2.974,-2.863,-2.885,-2.913,-2.874,-2.902,-2.830,-2.863,-2.836,-2.918,-2.830,-2.692,-2.753,-3.084,-2.819,-2.940,-3.139,-2.940,-3.067,-3.012,-3.095,-2.836,-2.902,-3.051,-2.891,-2.664,-2.377,-2.421,-2.499,-2.460,-2.698,-2.460,-2.444,-2.791,-2.444,-2.775,-2.863,-2.449,-2.775,-2.830,-2.626,-2.830,-2.598,-2.719,-2.753,-2.609,-2.664,-2.267,-2.642,-2.449,-2.615,-2.239,-2.499,-2.167,-2.476,-2.145,-2.515,-2.543,-2.476,-2.140,-2.074,-2.063,-2.421,-2.339,-2.476,-2.432,-2.460,-2.350,-2.394,-2.388,-2.201,-1.963,-1.742];

const xTickExponents=[-6,-5,-4,-3];
const xTickLabels=['−6','−5','−4','−3'];
const yTickExponents=[0,-1,-2,-3,-4,-5];
const yTickLabels=['0','−1','−2','−3','−4','−5'];
const minorMultipliers=[2,3,4,5,6,7,8,9];
const colorbarTicks=[190,200,210,220,230];
const colorbarLabels=['190','200','210','220','230'];
const tempMin=187.5,tempMax=235.8;

const NS='http://www.w3.org/2000/svg';
const plotLeft=314,plotRight=1289.5,plotTop=44.5,plotBottom=950;
const cbarX=1546,cbarTop=44,cbarBottom=950;
function xScale(v){return plotLeft+(v+6)/3*(plotRight-plotLeft);}
function yScale(v){return plotTop+(0-v)/5*(plotBottom-plotTop);}
function tempScale(t){return cbarBottom-(t-tempMin)/(tempMax-tempMin)*(cbarBottom-cbarTop);}
function autumn(t){const f=Math.max(0,Math.min(1,(t-tempMin)/(tempMax-tempMin)));return 'rgb(255,'+Math.round(f*255)+',0)';}
function el(tag,attrs,parent){const e=document.createElementNS(NS,tag);for(const k in attrs)e.setAttribute(k,attrs[k]);parent.appendChild(e);return e;}

const marks=document.getElementById('marks');
const axes=document.getElementById('axes');
const cbar=document.getElementById('cbar');

scatterClouds.forEach(function(cloud){
  cloud.forEach(function(p){
    const dot=el('circle',{cx:xScale(p[0]),cy:yScale(p[1]),r:6.9,fill:autumn(p[2])},marks);
    
    
  });
});

function drawLine(xs,ys,color,width,name){
  const pts=xs.map(function(x,i){return xScale(x).toFixed(1)+','+yScale(ys[i]).toFixed(1);}).join(' ');
  const line=el('polyline',{points:pts,fill:'none',stroke:color,'stroke-width':width,'stroke-linejoin':'round','stroke-linecap':'round'},marks);
  
  
}
drawLine(blackLogExt,blackLogIwc,'#000000',6,'fit-line-black');
drawLine(brownLogExt,brownLogIwc,'#a52a2a',6,'fit-line-brown');
drawLine(purpleLogExt,purpleLogIwc,'#800080',6,'fit-line-purple');
drawLine(yellowLogExt,yellowLogIwc,'#ffff00',7.5,'series-line-yellow');
drawLine(greenLogExt,greenLogIwc,'#008000',6.5,'series-line-green');
drawLine(blueLogExt,blueLogIwc,'#0000ff',7.5,'series-line-blue');

const frame=el('rect',{x:plotLeft,y:plotTop,width:plotRight-plotLeft,height:plotBottom-plotTop,fill:'none',stroke:'#000','stroke-width':3},axes);



xTickExponents.forEach(function(v,i){
  const x=xScale(v);
  const tick=el('line',{x1:x,x2:x,y1:plotBottom,y2:plotBottom+15,stroke:'#000','stroke-width':2.6},axes);
  
  
  const label=el('text',{x:x+2,y:1036.5,'font-size':73.5,'text-anchor':'middle'},axes);
  
  
  label.appendChild(document.createTextNode('10'));
  const sup=el('tspan',{dy:-28.5,'font-size':52},label);
  sup.textContent=xTickLabels[i];
  if(i<xTickExponents.length-1){
    minorMultipliers.forEach(function(m){
      const mx=xScale(v+Math.log10(m));
      const minor=el('line',{x1:mx,x2:mx,y1:plotBottom,y2:plotBottom+8.5,stroke:'#000','stroke-width':1.8},axes);
      
      
    });
  }
});

yTickExponents.forEach(function(v,i){
  const y=yScale(v);
  const tick=el('line',{x1:plotLeft-15,x2:plotLeft,y1:y,y2:y,stroke:'#000','stroke-width':2.6},axes);
  
  
  const label=el('text',{x:287,y:y+28,'font-size':74.5,'text-anchor':'end'},axes);
  
  
  label.appendChild(document.createTextNode('10'));
  const sup=el('tspan',{dy:-28,'font-size':52.5},label);
  sup.textContent=yTickLabels[i];
  if(v>-5){
    minorMultipliers.forEach(function(m){
      const my=yScale(v-1+Math.log10(m));
      const minor=el('line',{x1:plotLeft-8.5,x2:plotLeft,y1:my,y2:my,stroke:'#000','stroke-width':1.8},axes);
      
      
    });
  }
});

colorbarTicks.forEach(function(t,i){
  const y=tempScale(t);
  const tick=el('line',{x1:cbarX,x2:cbarX+14,y1:y,y2:y,stroke:'#000','stroke-width':2.6},cbar);
  
  
  const label=el('text',{x:1574,y:y+28,'font-size':74.5},cbar);
  
  
  label.textContent=colorbarLabels[i];
});
</script>
</body>
</html>
